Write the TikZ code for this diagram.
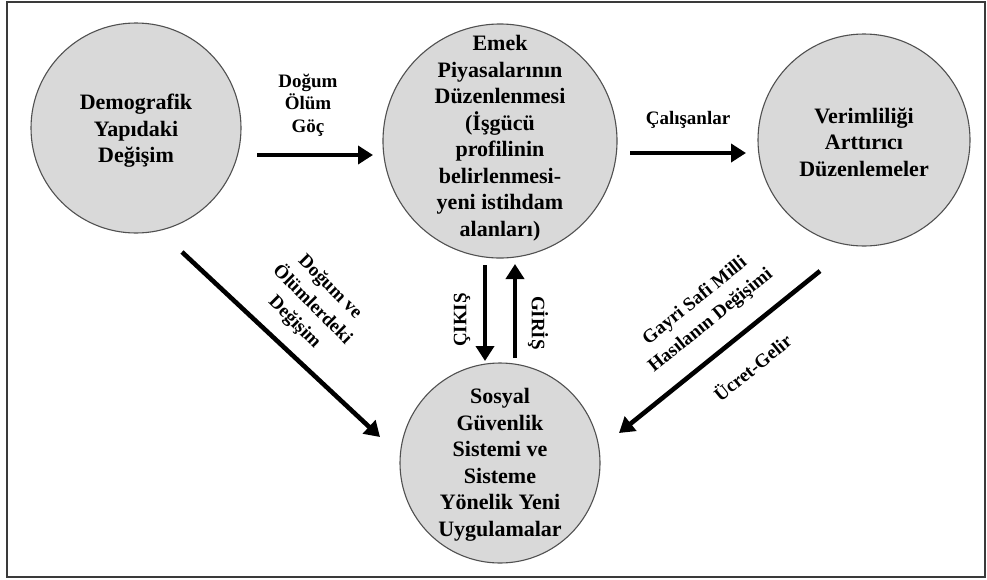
\documentclass[tikz,border=0pt]{standalone}
\usepackage{fontspec}
\setmainfont{Liberation Serif}
\usetikzlibrary{arrows.meta}
\definecolor{circfill}{HTML}{D9D9D9}
\definecolor{circline}{HTML}{505050}
\definecolor{framecol}{HTML}{3A3A3A}
\tikzset{
 circ/.style={circle, fill=circfill, draw=circline, line width=1.1pt, inner sep=0pt},
 ctext/.style={align=center, font=\fontsize{22}{26.5}\selectfont\bfseries, inner sep=0pt},
 lab/.style={align=center, font=\fontsize{19}{22.5}\selectfont\bfseries, inner sep=0pt},
 rlab/.style={align=center, font=\fontsize{19}{25}\selectfont\bfseries, inner sep=0pt},
 arr/.style={line width=4.6pt, -{Triangle[length=15pt,width=18pt]}},
 frame/.style={draw=framecol, line width=2pt},
}
\begin{document}
\begin{tikzpicture}[x=1pt,y=-1pt]
\useasboundingbox (0,0) rectangle (987,579);
\draw[frame] (7,2) rectangle (985,577);
% circles
\node[circ, minimum size=210pt] (demo) at (136,128) {};
\node[circ, minimum size=234pt] (emek) at (500,141) {};
\node[circ, minimum size=212pt] (verim) at (864,140) {};
\node[circ, minimum size=200pt] (sosyal) at (500,463) {};
% circle texts
\node[ctext] (demoT) at (136,131) {Demografik\\Yapıdaki\\Değişim};
\node[ctext] (emekT) at (500,138) {Emek\\Piyasalarının\\Düzenlenmesi\\(İşgücü\\profilinin\\belirlenmesi-\\yeni istihdam\\alanları)};
\node[ctext] (verimT) at (864,142) {Verimliliği\\Arttırıcı\\Düzenlemeler};
\node[ctext] (sosyalT) at (500,465) {Sosyal\\Güvenlik\\Sistemi ve\\Sisteme\\Yönelik Yeni\\Uygulamalar};
% arrow end points
\coordinate (a1s) at (257,155); \coordinate (a1e) at (373,155);
\coordinate (a2s) at (630,153); \coordinate (a2e) at (746,153);
\coordinate (a3s) at (182,252); \coordinate (a3e) at (380,437);
\coordinate (a4s) at (820,271); \coordinate (a4e) at (619,433);
\coordinate (a5s) at (485,265); \coordinate (a5e) at (485,361);
\coordinate (a6s) at (515,358); \coordinate (a6e) at (515,264);
% arrows
\draw[arr] (a1s) -- (a1e);
\draw[arr] (a2s) -- (a2e);
\draw[arr] (a3s) -- (a3e);
\draw[arr] (a4s) -- (a4e);
\draw[arr] (a5s) -- (a5e);
\draw[arr] (a6s) -- (a6e);
% labels
\node[lab] (l1) at (308,105) {Doğum\\Ölüm\\Göç};
\node[lab] (l2) at (688,120) {Çalışanlar};
\node[rlab, rotate=-45] (l3) at (312,305) {Doğum ve\\Ölümlerdeki\\Değişim};
\node[rlab, rotate=39] (l4) at (703,311) {Gayri Safi Milli\\Hasılanın Değişimi};
\node[rlab, rotate=39] (l5) at (752,367) {Ücret-Gelir};
\node[rlab, rotate=90] (l6) at (462,320) {ÇIKIŞ};
\node[rlab, rotate=-90] (l7) at (538,323) {GİRİŞ};
\end{tikzpicture}
\end{document}
